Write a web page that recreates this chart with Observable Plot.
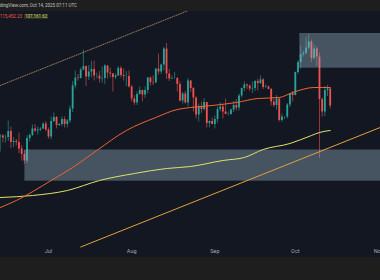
<!DOCTYPE html>
<html><head><meta charset="utf-8">
<script src="https://cdn.jsdelivr.net/npm/d3@7"></script>
<script src="https://cdn.jsdelivr.net/npm/@observablehq/plot@0.6"></script>
<style>
html,body{margin:0;padding:0;background:#1e1e1e;}
#wrap{position:relative;width:380px;height:280px;overflow:hidden;background:#1e1e1e;font-family:Roboto,"DejaVu Sans",sans-serif;}
#hdr{position:absolute;right:303px;top:3px;font-size:4.5px;line-height:5px;color:#c4c4c4;white-space:nowrap;}
#chart{position:absolute;top:11px;left:0;}
#ma1{position:absolute;right:358px;top:13.5px;font-size:4.5px;line-height:5px;color:#f0564a;white-space:nowrap;z-index:2;}
#ma2{position:absolute;left:24px;top:13.5px;font-size:4.5px;line-height:5px;color:#cfd86a;background:#2b3024;padding:0 1px;white-space:nowrap;z-index:2;}
</style></head>
<body>
<div id="wrap">
  <div id="hdr">TradingView.com, Oct 14, 2025 07:11 UTC</div>
  <div id="chart"></div>
  <div id="ma1">115,452.23</div>
  <div id="ma2">107,161.62</div>
</div>
<script>
// daily candles, 2025-06-13 .. 2025-10-14
const firstDay = "2025-06-13";
const opens = [
105700,105900,105500,105600,106800,104600,104800,104600,103300,102200,100900,105400,106000,107300,106900,107100,107300,108300,
107100,105700,108800,109600,108000,108200,109200,108200,108900,111300,115900,117500,117400,119100,119800,117700,118700,119200,117900,117900,117300,117400,119900,118500,118300,117600,117900,119400,118000,117800,117800,
115700,113300,112500,114200,115000,114100,115000,117500,116600,116500,119300,118700,120100,123300,118300,117300,117400,117400,116200,112900,114300,112500,116900,115400,113500,110100,111800,111200,112600,108400,108800,
108200,109200,111200,111700,110700,110200,110200,111100,112000,111500,113900,115400,116100,115900,115300,115400,116800,116400,117100,115600,115700,115200,112700,112000,113300,109000,109700,109700,112100,114400,
114000,118600,120600,122200,122400,123500,124700,121400,123300,121700,113200,110700,115000,115300];
const highs = [
106200,106200,106100,108900,107700,105600,105200,106500,104000,103000,106000,106300,108100,108200,107700,107600,108500,108800,
107500,109700,110500,109800,108400,109700,109700,109200,111900,116800,118900,118200,119500,123100,119900,120000,120800,120900,118500,118800,119700,120200,120000,119500,118400,118300,119800,119800,119300,118800,118900,
116000,114000,114700,115700,115100,115700,117600,117700,117900,119300,122300,120300,123600,124400,119200,117900,118600,117600,116800,114600,114800,117400,117000,115600,113700,112300,112700,113400,112600,108900,109500,
109900,111700,112600,112300,113300,110700,111300,112800,113200,114300,115500,116700,116300,116100,116700,117000,117300,117900,117400,116100,115900,115400,113300,114000,113500,110300,109800,112400,114400,114800,
118700,121000,123900,122900,125700,126200,125100,124100,123700,122500,113500,115800,116000,115500];
const lows = [
102700,104500,104500,104800,103400,103600,103900,102400,100900,100200,100400,104700,105800,106600,106100,106800,107200,106800,
105300,105100,108600,107300,107800,107800,107500,107500,108400,110600,115300,116900,117300,118900,115800,117000,117500,116900,117300,116500,116500,116200,117300,117500,114700,117200,117800,117500,116900,115800,115500,
112700,112000,112000,114100,112700,113400,114300,115900,116000,116500,118100,118200,118900,117200,116800,117200,117300,114700,112700,112300,112300,111700,114600,110700,109300,108700,110400,110900,107500,107500,108100,
107300,108500,110700,109300,110200,109900,110000,110600,110900,110900,113500,114800,115200,114800,114400,114800,114900,116200,115200,115500,115200,111900,111600,111100,108700,108600,109200,109300,111600,112700,
113900,118200,119300,121700,122100,123100,120600,121100,119800,101400,109700,109800,113800,111300];
const closes = [
105900,105500,105600,106800,104600,104800,104600,103300,102200,100900,105400,106000,107300,106900,107100,107300,108300,107100,
105700,108800,109600,108000,108200,109200,108200,108900,111300,115900,117500,117400,119100,119800,117700,118700,119200,117900,117900,117300,117400,119900,118500,118300,117600,117900,119400,118000,117800,117800,115700,
113300,112500,114200,115000,114100,115000,117500,116600,116500,119300,118700,120100,123300,118300,117300,117400,117400,116200,112900,114300,112500,116900,115400,113500,110100,111800,111200,112600,108400,108800,108200,
109200,111200,111700,110700,110200,110200,111100,112000,111500,113900,115400,116100,115900,115300,115400,116800,116400,117100,115600,115700,115200,112700,112000,113300,109000,109700,109700,112100,114400,114000,
118600,120600,122200,122400,123500,124700,121400,123300,121700,113200,110700,115000,115300,111900];

// moving averages
const maFastDates = ["2025-06-13","2025-06-19","2025-07-02","2025-07-10","2025-07-19","2025-07-30","2025-08-10","2025-08-18","2025-08-23","2025-08-31","2025-09-09","2025-09-17","2025-09-25","2025-09-30","2025-10-08","2025-10-14"];
const maFast = [91600,93000,97000,99600,103000,107000,109600,111200,111600,112000,112600,113400,113600,114600,115600,115600];
const maSlowDates = ["2025-06-13","2025-06-25","2025-07-08","2025-07-20","2025-08-02","2025-08-14","2025-08-23","2025-09-04","2025-09-12","2025-09-19","2025-09-29","2025-10-07","2025-10-10","2025-10-14"];
const maSlow = [93600,94000,95000,97000,98400,99400,99800,101000,101600,103200,104400,106000,106600,107000];

// drawn trend lines
const supportDates = ["2025-07-13","2025-11-03"];
const supportVals = [83700,107900];
const channelDates = ["2025-06-13","2025-09-01"];
const channelVals = [116000,133100];

// zones
const zoneStart = ["2025-06-22T05:00Z","2025-10-02T16:00Z"];
const zoneEnd = ["2025-11-10","2025-11-10"];
const zoneLow = [96860,119460];
const zoneHigh = [103100,126400];

const days = d3.utcDay.range(new Date(firstDay+"T00:00Z"), d3.utcDay.offset(new Date(firstDay+"T00:00Z"), closes.length));
const candles = days.map((d,i)=>({date:d,o:opens[i],h:highs[i],l:lows[i],c:closes[i]}));
const toDate = s => new Date(s.length===10 ? s+"T00:00Z" : s);
const fast = maFastDates.map((d,i)=>({date:toDate(d),v:maFast[i]}));
const slow = maSlowDates.map((d,i)=>({date:toDate(d),v:maSlow[i]}));
const support = supportDates.map((d,i)=>({date:toDate(d),v:supportVals[i]}));
const channel = channelDates.map((d,i)=>({date:toDate(d),v:channelVals[i]}));
const zones = zoneStart.map((d,i)=>({x1:toDate(d),x2:toDate(zoneEnd[i]),y1:zoneLow[i],y2:zoneHigh[i]}));
const col = d => d.c >= d.o ? "#26a69a" : "#ef5350";

const chart = Plot.plot({
  width: 380, height: 246,
  marginTop: 0, marginRight: 0, marginBottom: 12, marginLeft: 0,
  style: {background: "#131722", color: "#a3a6ae", fontFamily: "Roboto, sans-serif"},
  x: {type: "utc", domain: [new Date("2025-06-13T02:40Z"), new Date("2025-11-01T17:53Z")]},
  y: {domain: [84000, 130800], axis: null},
  marks: [
    Plot.ruleX(candles, {x: "date", y1: "l", y2: "h", stroke: col, strokeWidth: 0.6}),
    Plot.ruleX(candles, {x: "date", y1: "o", y2: "c", stroke: col, strokeWidth: 1.8}),
    Plot.rect(zones, {x1: "x1", x2: "x2", y1: "y1", y2: "y2", fill: "#9bb5c8", fillOpacity: 0.38}),
    Plot.line(channel, {x: "date", y: "v", stroke: "#b8936c", strokeWidth: 0.8, strokeDasharray: "1,1.4", clip: true}),
    Plot.line(support, {x: "date", y: "v", stroke: "#e3a03c", strokeWidth: 1}),
    Plot.line(slow, {x: "date", y: "v", stroke: "#dfe26a", strokeWidth: 1, curve: "monotone-x"}),
    Plot.line(fast, {x: "date", y: "v", stroke: "#ee6530", strokeWidth: 1, curve: "monotone-x"}),
    Plot.axisX({ticks: d3.utcMonth.every(1), tickFormat: d3.utcFormat("%b"), tickSize: 0, tickPadding: 4, fontSize: 5.5, fill: "#a3a6ae"})
  ]
});
document.getElementById("chart").appendChild(chart);
</script>
</body></html>
